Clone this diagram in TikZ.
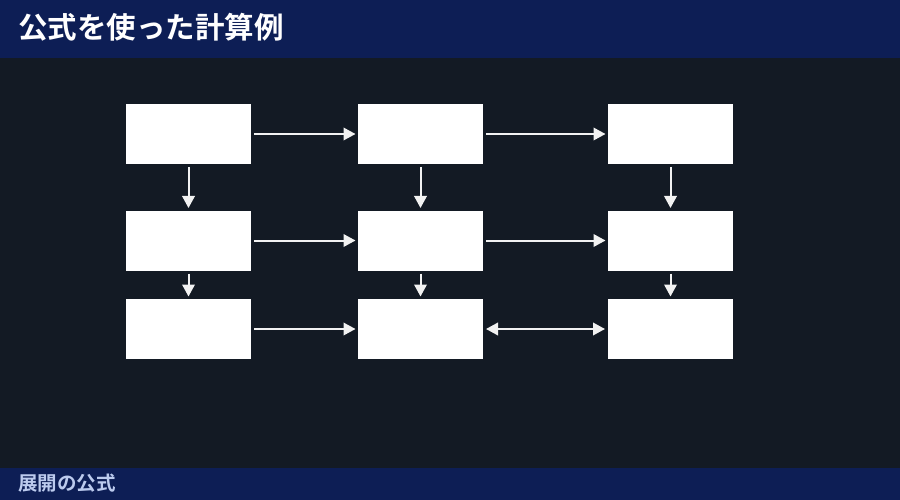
\documentclass[tikz,border=0pt]{standalone}
\usepackage{fontspec}
\newfontfamily\jpfont{Noto Sans CJK JP}
\newfontfamily\jpbold{Noto Sans CJK JP Bold}
\usetikzlibrary{arrows.meta}
\definecolor{bgdark}{HTML}{131A24}
\definecolor{barnavy}{HTML}{0D1E55}
\definecolor{foottext}{HTML}{BCCBEE}
\definecolor{arrowwhite}{HTML}{F2F2F2}
\tikzset{
  box/.style={fill=white, draw=none, minimum width=125pt, minimum height=60pt, inner sep=0pt, outer sep=0pt},
  conn/.style={draw=arrowwhite, line width=2pt, -{Triangle[length=12pt,width=12.5pt]}, shorten <=3pt, shorten >=2.5pt},
  conn2/.style={draw=arrowwhite, line width=2pt, {Triangle[length=12pt,width=12.5pt]}-{Triangle[length=12pt,width=12.5pt]}, shorten <=3pt, shorten >=3pt}
}
\begin{document}
\begin{tikzpicture}[x=1pt,y=-1pt]
\useasboundingbox (0,0) rectangle (900,500);
\fill[bgdark] (0,0) rectangle (900,500);
\fill[barnavy] (0,0) rectangle (900,58);
\fill[barnavy] (0,468) rectangle (900,500);
\node[anchor=west, text=white, font=\jpbold\fontsize{29.5}{32}\selectfont, inner sep=0pt] (title) at (18,27) {公式を使った計算例};
\node[anchor=west, text=foottext, font=\jpbold\fontsize{19.5}{22}\selectfont, inner sep=0pt] (foot) at (18,483) {展開の公式};
\node[box] (a1) at (188.5,134) {};
\node[box] (a2) at (420.5,134) {};
\node[box] (a3) at (670.5,134) {};
\node[box] (b1) at (188.5,240.5) {};
\node[box] (b2) at (420.5,240.5) {};
\node[box] (b3) at (670.5,240.5) {};
\node[box] (c1) at (188.5,329) {};
\node[box] (c2) at (420.5,329) {};
\node[box] (c3) at (670.5,329) {};
\draw[conn] (a1.east) -- (a2.west);
\draw[conn] (a2.east) -- (a3.west);
\draw[conn] (b1.east) -- (b2.west);
\draw[conn] (b2.east) -- (b3.west);
\draw[conn] (c1.east) -- (c2.west);
\draw[conn2] (c2.east) -- (c3.west);
\draw[conn] (a1.south) -- (b1.north);
\draw[conn] (a2.south) -- (b2.north);
\draw[conn] (a3.south) -- (b3.north);
\draw[conn] (b1.south) -- (c1.north);
\draw[conn] (b2.south) -- (c2.north);
\draw[conn] (b3.south) -- (c3.north);
\end{tikzpicture}
\end{document}
